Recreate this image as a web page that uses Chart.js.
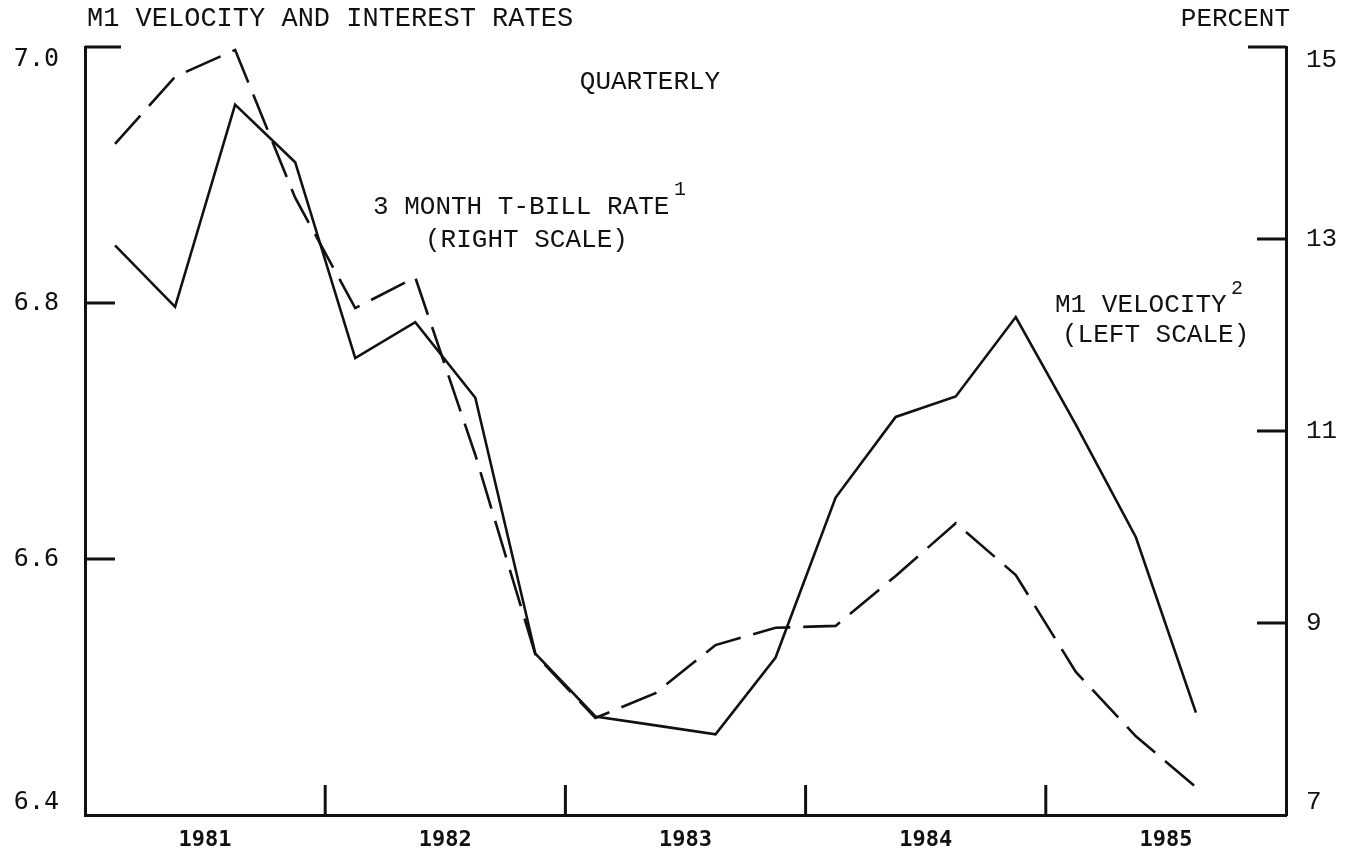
<!DOCTYPE html>
<html>
<head>
<meta charset="utf-8">
<title>M1 Velocity and Interest Rates</title>
<script src="https://cdn.jsdelivr.net/npm/chart.js"></script>
<style>
  html, body { margin: 0; padding: 0; background: #fff; }
  canvas { display: block; }
</style>
</head>
<body>
<canvas id="myChart" width="1360" height="858"></canvas>
<script>
// quarterly observations, 1981:1 - 1985:3
const quarters = [
    "1981:1", "1981:2", "1981:3", "1981:4",
    "1982:1", "1982:2", "1982:3", "1982:4",
    "1983:1", "1983:2", "1983:3", "1983:4",
    "1984:1", "1984:2", "1984:3", "1984:4",
    "1985:1", "1985:2", "1985:3"
]
// M1 velocity (left scale)
const velocity = [
    6.845, 6.797, 6.955, 6.910,
    6.757, 6.785, 6.726, 6.526,
    6.477, 6.470, 6.463, 6.523,
    6.648, 6.711, 6.727, 6.789,
    6.705, 6.617, 6.480
]
// 3 month T-bill rate, percent (right scale)
const tbillRate = [
    13.99, 14.69, 14.97, 13.43,
    12.28, 12.60, 10.75, 8.67,
    8.01, 8.27, 8.77, 8.95,
    8.97, 9.49, 10.04, 9.50,
    8.49, 7.82, 7.29
]
const years = ["1981", "1982", "1983", "1984", "1985"]
const leftTicks = [6.4, 6.6, 6.8, 7.0]
const rightTicks = [7, 9, 11, 13, 15]

const ink = "#111"
const typeFont = "'Liberation Mono', 'DejaVu Sans Mono', monospace"

const quarterPos = q => {
    const [y, n] = q.split(":").map(Number)
    return y + (n - 0.5) / 4
}
const toPoints = values => quarters.map((q, i) => ({ x: quarterPos(q), y: values[i] }))

// keep the chart area fixed: no extra room for the end tick labels
const fixWidth = w => axis => {
    axis.width = w
    axis.paddingTop = 0
    axis.paddingBottom = 0
}

// inward tick marks and the typed labels on the chart
const frameMarks = {
    id: "frameMarks",
    afterDraw(chart) {
        const { ctx, chartArea: a, scales } = chart
        const top = leftTicks[leftTicks.length - 1]
        const topR = rightTicks[rightTicks.length - 1]
        ctx.save()
        ctx.strokeStyle = ink
        ctx.lineWidth = 3
        ctx.beginPath()
        leftTicks.slice(1).forEach(v => {
            const y = scales.yL.getPixelForValue(v)
            ctx.moveTo(a.left, y)
            ctx.lineTo(a.left + (v === top ? 36 : 30), y)
        })
        rightTicks.slice(1).forEach(v => {
            const y = scales.yR.getPixelForValue(v)
            ctx.moveTo(a.right, y)
            ctx.lineTo(a.right - (v === topR ? 38 : 29), y)
        })
        years.slice(1).forEach(yr => {
            const x = scales.x.getPixelForValue(Number(yr))
            ctx.moveTo(x, a.bottom)
            ctx.lineTo(x, a.bottom - 30)
        })
        ctx.stroke()

        ctx.fillStyle = ink
        ctx.textBaseline = "middle"
        ctx.font = "27px " + typeFont
        ctx.textAlign = "left"
        ctx.fillText("M1 VELOCITY AND INTEREST RATES", a.left + 2, 19)
        ctx.font = "26px " + typeFont
        ctx.textAlign = "right"
        ctx.fillText("PERCENT", a.right + 4, 19)
        ctx.textAlign = "center"
        ctx.fillText("QUARTERLY", 650, 82)
        ctx.textAlign = "left"
        ctx.fillText("3 MONTH T-BILL RATE", 373, 207)
        ctx.fillText("(RIGHT SCALE)", 425, 240)
        ctx.fillText("M1 VELOCITY", 1055, 305)
        ctx.fillText("(LEFT SCALE)", 1062, 335)
        ctx.font = "20px " + typeFont
        ctx.fillText("1", 674, 190)
        ctx.fillText("2", 1231, 289)
        ctx.restore()
    }
}

new Chart(document.getElementById("myChart"), {
    type: "line",
    data: {
        datasets: [{
            label: "M1 velocity",
            data: toPoints(velocity),
            yAxisID: "yL",
            borderColor: ink,
            borderWidth: 2.6,
            pointRadius: 0,
            tension: 0
        }, {
            label: "3 month T-bill rate",
            data: toPoints(tbillRate),
            yAxisID: "yR",
            borderColor: ink,
            borderWidth: 2.6,
            borderDash: [38, 13],
            pointRadius: 0,
            tension: 0
        }]
    },
    options: {
        responsive: false,
        animation: false,
        layout: { padding: { top: 47, left: 0, right: 0, bottom: 0 } },
        plugins: {
            legend: { display: false },
            tooltip: { enabled: false }
        },
        scales: {
            x: {
                type: "linear",
                min: Number(years[0]),
                max: Number(years[years.length - 1]) + 1,
                afterBuildTicks: axis => {
                    axis.ticks = years.map(y => ({ value: Number(y) + 0.5 }))
                },
                afterFit: axis => {
                    axis.height = 43
                    axis.paddingLeft = 0
                    axis.paddingRight = 0
                },
                ticks: {
                    callback: v => String(Math.floor(v)),
                    color: ink,
                    padding: 12,
                    maxRotation: 0,
                    font: { family: "'DejaVu Sans Mono', monospace", size: 22, weight: "bold" }
                },
                grid: { drawOnChartArea: false, drawTicks: false },
                border: { display: true, color: ink, width: 3 }
            },
            yL: {
                position: "left",
                min: leftTicks[0],
                max: leftTicks[leftTicks.length - 1],
                afterBuildTicks: axis => {
                    axis.ticks = leftTicks.map(v => ({ value: v }))
                },
                afterFit: fixWidth(85),
                ticks: {
                    callback: v => {
                        const s = v.toFixed(1)
                        if (v === leftTicks[leftTicks.length - 1]) return ["", s]
                        if (v === leftTicks[0]) return [s, ""]
                        return s
                    },
                    color: ink,
                    padding: 26,
                    font: { family: "'DejaVu Sans Mono', monospace", size: 25, lineHeight: 1.0 }
                },
                grid: { drawOnChartArea: false, drawTicks: false },
                border: { display: true, color: ink, width: 3 }
            },
            yR: {
                position: "right",
                min: rightTicks[0],
                max: rightTicks[rightTicks.length - 1],
                afterBuildTicks: axis => {
                    axis.ticks = rightTicks.map(v => ({ value: v }))
                },
                afterFit: fixWidth(74),
                ticks: {
                    callback: v => {
                        const s = String(v)
                        if (v === rightTicks[rightTicks.length - 1]) return ["", s]
                        if (v === rightTicks[0]) return [s, ""]
                        return s
                    },
                    color: ink,
                    padding: 20,
                    font: { family: typeFont, size: 26, lineHeight: 1.0 }
                },
                grid: { drawOnChartArea: false, drawTicks: false },
                border: { display: true, color: ink, width: 3 }
            }
        }
    },
    plugins: [frameMarks]
})
</script>
</body>
</html>
